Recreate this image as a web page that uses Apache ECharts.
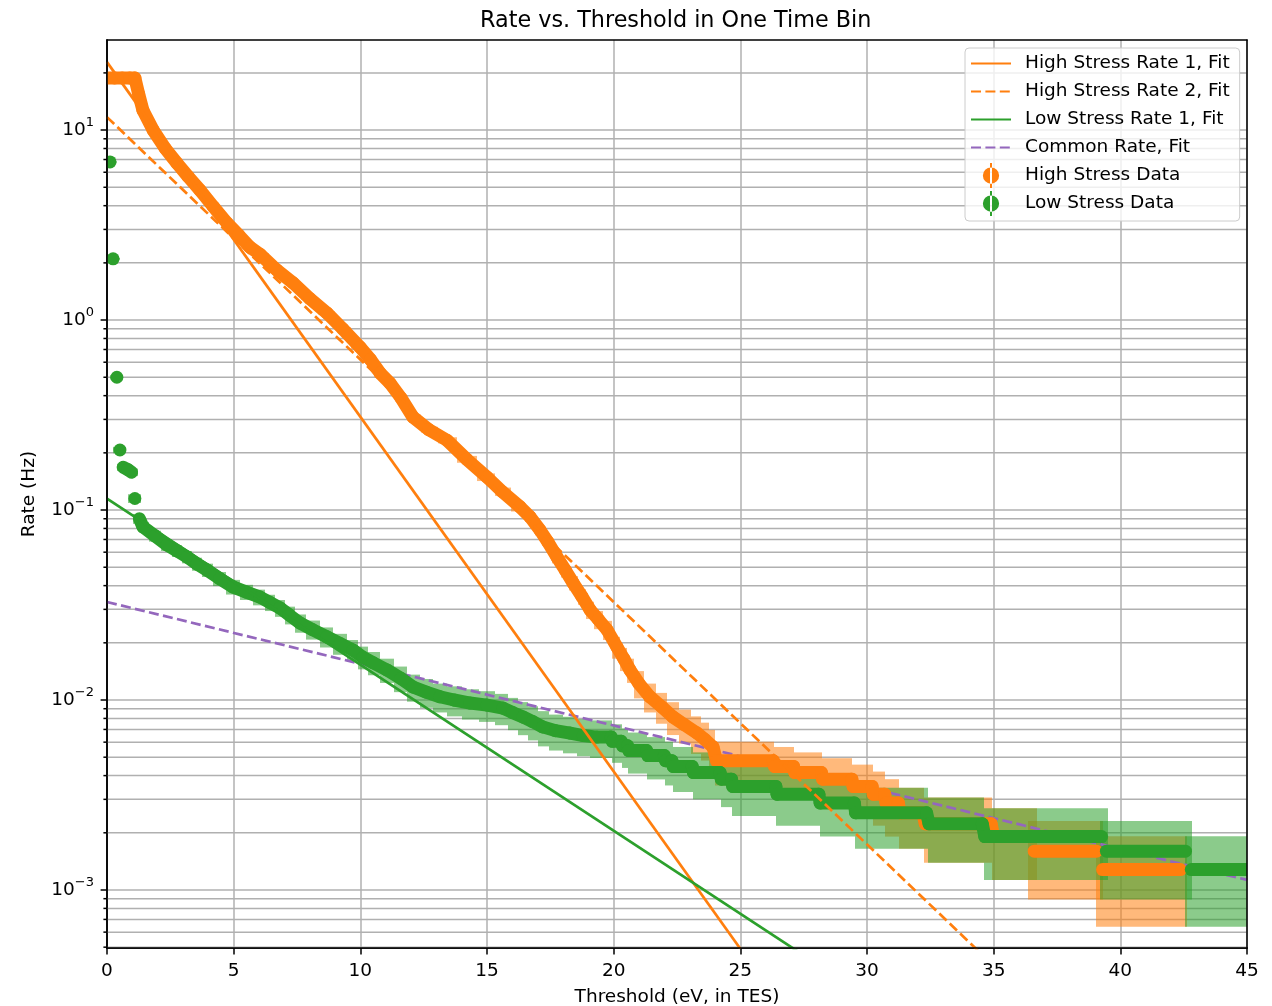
<!DOCTYPE html>
<html>
<head>
<meta charset="utf-8">
<title>Rate vs. Threshold in One Time Bin</title>
<script src="https://cdn.jsdelivr.net/npm/echarts@6/dist/echarts.min.js"></script>
<style>
  html, body { margin: 0; padding: 0; background: #ffffff; }
  #chart { width: 1272px; height: 1006px; }
</style>
</head>
<body>
<div id="chart"></div>
<script>
// Rows: [threshold (eV), rate (Hz), 1-sigma error (Hz)]; a null rate breaks the marker trace.
var highStressData = [
  [0.00, 18.8, 0.078], [0.30, 18.8, 0.078], [0.60, 18.8, 0.078], [0.90, 18.8, 0.078],
  [1.10, 18.8, 0.078], [1.25, 15.5, 0.070], [1.42, 12.7, 0.064], [1.82, 10.0, 0.056],
  [2.30, 8.0, 0.051], [2.76, 6.7, 0.046], [3.20, 5.7, 0.043], [3.67, 4.83, 0.039],
  [4.20, 3.95, 0.035], [4.74, 3.24, 0.032], [5.20, 2.80, 0.030], [5.64, 2.42, 0.028],
  [6.04, 2.22, 0.027], [6.71, 1.83, 0.024], [7.34, 1.57, 0.022], [8.00, 1.30, 0.020],
  [8.68, 1.09, 0.019], [9.30, 0.90, 0.017], [9.99, 0.72, 0.015], [10.40, 0.62, 0.014],
  [10.78, 0.526, 0.013], [11.17, 0.466, 0.012], [11.60, 0.39, 0.011], [12.08, 0.308, 0.0099],
  [12.70, 0.265, 0.0092], [13.42, 0.233, 0.0086], [14.20, 0.185, 0.0077], [15.00, 0.149, 0.0069],
  [15.60, 0.125, 0.0063], [16.30, 0.104, 0.0058], [16.70, 0.092, 0.0054], [17.09, 0.0785, 0.0050],
  [17.40, 0.068, 0.0047], [17.76, 0.0566, 0.0042], [18.10, 0.048, 0.0039], [18.40, 0.0413, 0.0036],
  [18.75, 0.035, 0.0033], [19.07, 0.0298, 0.0031], [19.40, 0.0265, 0.0029], [19.74, 0.0234, 0.0027],
  [20.13, 0.0190, 0.0025], [20.40, 0.0165, 0.0023], [20.64, 0.0144, 0.0021], [21.00, 0.0122, 0.0020],
  [21.43, 0.0104, 0.0018], [21.90, 0.0092, 0.0017], [22.34, 0.00814, 0.0016], [22.80, 0.0074, 0.0015],
  [23.29, 0.0067, 0.0015], [23.60, 0.0062, 0.0014], [23.92, 0.00566, 0.0013],
  [24.06, 0.00479, 0.00124], [26.30, 0.00479, 0.00124],
  [26.35, 0.00447, 0.00119], [27.10, 0.00447, 0.00119],
  [27.15, 0.00415, 0.00115], [28.20, 0.00415, 0.00115],
  [28.25, 0.00383, 0.00111], [29.40, 0.00383, 0.00111],
  [29.45, 0.00351, 0.00106], [30.20, 0.00351, 0.00106],
  [30.25, 0.00319, 0.00101], [30.70, 0.00319, 0.00101],
  [30.75, 0.00287, 0.00096], [31.24, 0.00287, 0.00096],
  [31.30, 0.00255, 0.00090], [32.20, 0.00255, 0.00090],
  [32.30, 0.00223, 0.00084], [34.90, 0.00223, 0.00084],
  [35.00, 0.00191, 0.00078], [36.45, 0.00191, 0.00078],
  [36.55, null, null],
  [36.60, 0.00160, 0.00071], [39.06, 0.00160, 0.00071],
  [39.20, null, null],
  [39.30, 0.00128, 0.00064], [42.37, 0.00128, 0.00064]
];

var lowStressData = [
  [0.12, 6.8, 0.047], [0.18, null, null],
  [0.24, 2.1, 0.026], [0.30, null, null],
  [0.39, 0.50, 0.0126], [0.45, null, null],
  [0.51, 0.207, 0.0081], [0.57, null, null],
  [0.64, 0.168, 0.0073], [0.83, 0.163, 0.0072], [0.97, 0.158, 0.0071], [1.03, null, null],
  [1.10, 0.115, 0.0061], [1.19, null, null],
  [1.28, 0.090, 0.0054], [1.42, 0.0815, 0.0051], [1.90, 0.073, 0.0048], [2.37, 0.0655, 0.0046],
  [2.76, 0.061, 0.0044], [3.16, 0.0566, 0.0042], [3.55, 0.052, 0.0041], [3.95, 0.0483, 0.0039],
  [4.45, 0.0435, 0.0037], [4.97, 0.0394, 0.0035], [5.50, 0.0370, 0.0034], [6.04, 0.0348, 0.0033],
  [6.43, 0.0326, 0.0032], [6.83, 0.0305, 0.0031], [7.20, 0.0280, 0.0030], [7.62, 0.0254, 0.0028],
  [8.10, 0.0235, 0.0027], [8.68, 0.0215, 0.0026], [9.20, 0.0198, 0.0025], [9.71, 0.0183, 0.0024],
  [10.10, 0.0168, 0.0023], [10.50, 0.0157, 0.0022], [11.05, 0.0144, 0.0021], [11.60, 0.0130, 0.0020],
  [12.08, 0.0117, 0.0019], [12.60, 0.0110, 0.0019], [13.14, 0.0104, 0.0018], [13.70, 0.0100, 0.0018],
  [14.33, 0.00964, 0.00175], [15.00, 0.00940, 0.00173], [15.63, 0.00907, 0.00170],
  [16.00, 0.00860, 0.00166], [16.42, 0.00814, 0.00161], [16.80, 0.00770, 0.00157],
  [17.20, 0.00722, 0.00152], [17.70, 0.00690, 0.00148], [18.28, 0.00670, 0.00146],
  [18.80, 0.00650, 0.00144],
  [19.34, 0.00638, 0.00143], [19.90, 0.00638, 0.00143],
  [19.95, 0.00606, 0.00139], [20.30, 0.00606, 0.00139],
  [20.35, 0.00574, 0.00135], [20.55, 0.00574, 0.00135],
  [20.60, 0.00542, 0.00132], [21.30, 0.00542, 0.00132],
  [21.35, 0.00510, 0.00128], [22.00, 0.00510, 0.00128],
  [22.05, 0.00479, 0.00124], [22.30, 0.00479, 0.00124],
  [22.35, 0.00447, 0.00119], [23.10, 0.00447, 0.00119],
  [23.15, 0.00415, 0.00115], [24.20, 0.00415, 0.00115],
  [24.25, 0.00383, 0.00110], [24.65, 0.00383, 0.00110],
  [24.70, 0.00351, 0.00106], [26.40, 0.00351, 0.00106],
  [26.45, 0.00319, 0.00101], [28.10, 0.00319, 0.00101],
  [28.15, 0.00287, 0.00096], [29.50, 0.00287, 0.00096],
  [29.55, 0.00255, 0.00090], [32.35, 0.00255, 0.00090],
  [32.45, 0.00223, 0.00084], [34.55, 0.00223, 0.00084],
  [34.65, 0.00191, 0.00078], [39.26, 0.00191, 0.00078],
  [39.35, null, null],
  [39.45, 0.00160, 0.00071], [42.57, 0.00160, 0.00071],
  [42.68, null, null],
  [42.80, 0.00128, 0.00064], [45.00, 0.00128, 0.00064]
];

// Exponential fits: each is a straight line on the log axis, given by two end points [eV, Hz]
var highStressFit1 = [[0, 22.8], [25, 4.9e-4]];
var highStressFit2 = [[0, 11.7], [35, 4.0e-4]];
var lowStressFit1 = [[0, 0.115], [28, 4.1e-4]];
var commonFit = [[0, 0.0328], [45, 1.13e-3]];

// Axis ranges and tick values
var X_MIN = 0, X_MAX = 45, X_STEP = 5;
var Y_MIN = 4.95e-4, Y_MAX = 29.8;
var yMajorTicks = [1e-3, 1e-2, 1e-1, 1, 10];
var yMinorTicks = [
  5e-4, 6e-4, 7e-4, 8e-4, 9e-4,
  2e-3, 3e-3, 4e-3, 5e-3, 6e-3, 7e-3, 8e-3, 9e-3,
  2e-2, 3e-2, 4e-2, 5e-2, 6e-2, 7e-2, 8e-2, 9e-2,
  0.2, 0.3, 0.4, 0.5, 0.6, 0.7, 0.8, 0.9,
  2, 3, 4, 5, 6, 7, 8, 9,
  20
];

var ORANGE = '#ff7f0e', GREEN = '#2ca02c', PURPLE = '#9467bd';
var FONT = 'DejaVu Sans';
var TEXT = '#000000';
var GRID_GRAY = '#b0b0b0';
var LABEL_SIZE = 18.5;
var MARKER = 13;          // marker diameter, px
var HALF_BAR = 6.5;       // half width of an error bar, px
var FIT_WIDTH = 2.7;
var DASH = [10, 4.4];

// Marker trace pieces: [x, rate, nextX, nextRate, isolated]
// Consecutive points are joined by a round-capped stroke as wide as a marker; lone points become dots.
function tracePieces(rows) {
  var out = [];
  for (var i = 0; i < rows.length; i++) {
    if (rows[i][1] == null) continue;
    var prev = i > 0 ? rows[i - 1] : null;
    var next = i < rows.length - 1 ? rows[i + 1] : null;
    var hasPrev = prev && prev[1] != null;
    var hasNext = next && next[1] != null;
    if (hasNext) out.push([rows[i][0], rows[i][1], next[0], next[1], 0]);
    else if (!hasPrev) out.push([rows[i][0], rows[i][1], rows[i][0], rows[i][1], 1]);
  }
  return out;
}

// One error bar per point, spanning half-way to its neighbours; run ends get a half bar width of padding.
function errorBars(rows) {
  var out = [];
  for (var i = 0; i < rows.length; i++) {
    if (rows[i][1] == null) continue;
    var prev = i > 0 ? rows[i - 1] : null;
    var next = i < rows.length - 1 ? rows[i + 1] : null;
    var startsRun = !prev || prev[1] == null;
    var endsRun = !next || next[1] == null;
    var left = startsRun ? rows[i][0] : (prev[0] + rows[i][0]) / 2;
    var right = endsRun ? rows[i][0] : (rows[i][0] + next[0]) / 2;
    out.push([left, right, rows[i][1] - rows[i][2], rows[i][1] + rows[i][2], startsRun ? 1 : 0, endsRun ? 1 : 0]);
  }
  return out;
}

function traceRenderer(color) {
  return function (params, api) {
    var a = api.coord([api.value(0), api.value(1)]);
    if (api.value(4)) {
      return { type: 'circle', shape: { cx: a[0], cy: a[1], r: MARKER / 2 }, style: { fill: color } };
    }
    var b = api.coord([api.value(2), api.value(3)]);
    return {
      type: 'line',
      shape: { x1: a[0], y1: a[1], x2: b[0], y2: b[1] },
      style: { stroke: color, lineWidth: MARKER, lineCap: 'round', fill: null }
    };
  };
}

function errorBarRenderer(fill) {
  return function (params, api) {
    var tl = api.coord([api.value(0), api.value(3)]);
    var br = api.coord([api.value(1), api.value(2)]);
    var xLo = api.coord([X_MIN, Y_MIN])[0], xHi = api.coord([X_MAX, Y_MIN])[0];
    var left = Math.round(Math.max(xLo, tl[0] - api.value(4) * HALF_BAR));
    var right = Math.round(Math.min(xHi, br[0] + api.value(5) * HALF_BAR));
    if (right <= left) return null;
    return {
      type: 'rect',
      shape: { x: left, y: tl[1], width: right - left, height: br[1] - tl[1] },
      style: { fill: fill }
    };
  };
}

var DATA_ICON = 'path://M9.2,0 L10.8,0 L10.8,20 L9.2,20 Z M3.5,10 A6.5,6.5 0 1 0 16.5,10 A6.5,6.5 0 1 0 3.5,10 Z';

function superscript(n) {
  return String(n).replace('-', '\u2212');
}

var frameLine = { show: true, onZero: false, lineStyle: { color: '#000', width: 1.5 } };
var hiddenSymbol = { opacity: 0 };

var option = {
  animation: false,
  backgroundColor: '#ffffff',
  textStyle: { fontFamily: FONT },
  title: {
    text: 'Rate vs. Threshold in One Time Bin',
    left: 480, top: 10, padding: 0,
    textStyle: { fontFamily: FONT, fontSize: 22.3, fontWeight: 'normal', color: TEXT }
  },
  legend: {
    orient: 'vertical',
    left: 965, top: 48,
    padding: [3, 10, 5, 5],
    itemWidth: 40, itemHeight: 25, itemGap: 3,
    backgroundColor: 'rgba(255,255,255,0.8)',
    borderColor: '#cccccc', borderWidth: 1, borderRadius: 4,
    selectedMode: false,
    textStyle: { fontFamily: FONT, fontSize: LABEL_SIZE, lineHeight: 25, color: TEXT, padding: [0, 0, 0, 9] },
    data: [
      { name: 'High Stress Rate 1, Fit', itemStyle: hiddenSymbol },
      { name: 'High Stress Rate 2, Fit', itemStyle: hiddenSymbol },
      { name: 'Low Stress Rate 1, Fit', itemStyle: hiddenSymbol },
      { name: 'Common Rate, Fit', itemStyle: hiddenSymbol },
      { name: 'High Stress Data', icon: DATA_ICON, itemStyle: { color: ORANGE } },
      { name: 'Low Stress Data', icon: DATA_ICON, itemStyle: { color: GREEN } }
    ]
  },
  grid: { left: 107, right: 25, top: 40, bottom: 58, containLabel: false, outerBoundsMode: 'none' },
  xAxis: [
    {
      type: 'value', min: X_MIN, max: X_MAX, interval: X_STEP, position: 'bottom',
      axisLine: frameLine,
      axisTick: { show: true, length: 6.4, lineStyle: { color: '#000', width: 1.5 } },
      axisLabel: { margin: 14, fontFamily: FONT, fontSize: LABEL_SIZE, color: TEXT },
      splitLine: { show: true, lineStyle: { color: GRID_GRAY, width: 1.5 } },
      name: 'Threshold (eV, in TES)', nameLocation: 'middle', nameGap: 40,
      nameTextStyle: { fontFamily: FONT, fontSize: LABEL_SIZE, color: TEXT }
    },
    { type: 'value', min: 0, max: 1, position: 'top', z: 10, axisLine: frameLine,
      axisTick: { show: false }, axisLabel: { show: false }, splitLine: { show: false } },
    { type: 'value', min: 0, max: 1, position: 'bottom', z: 10, axisLine: frameLine,
      axisTick: { show: false }, axisLabel: { show: false }, splitLine: { show: false } }
  ],
  yAxis: [
    {
      type: 'log', logBase: 10, min: Y_MIN, max: Y_MAX, position: 'left',
      axisLine: frameLine,
      axisTick: { show: true, length: 6.4, lineStyle: { color: '#000', width: 1.5 }, customValues: yMajorTicks },
      axisLabel: {
        margin: 13, customValues: yMajorTicks,
        formatter: function (v) {
          var lg = Math.log10(v), e = Math.round(lg);
          if (Math.abs(lg - e) > 1e-6) return '';
          return '{b|10}{s|' + superscript(e) + '}';
        },
        rich: {
          b: { fontFamily: FONT, fontSize: LABEL_SIZE, color: TEXT },
          s: { fontFamily: FONT, fontSize: 13, color: TEXT, padding: [0, 0, 14, 0] }
        }
      },
      splitLine: { show: true, lineStyle: { color: GRID_GRAY, width: 1.5 } },
      minorTick: { show: false }, minorSplitLine: { show: false },
      name: 'Rate (Hz)', nameLocation: 'middle', nameGap: 68,
      nameTextStyle: { fontFamily: FONT, fontSize: LABEL_SIZE, color: TEXT }
    },
    { type: 'value', min: 0, max: 1, position: 'right', z: 10, axisLine: frameLine,
      axisTick: { show: false }, axisLabel: { show: false }, splitLine: { show: false } },
    { type: 'value', min: 0, max: 1, position: 'left', z: 10, axisLine: frameLine,
      axisTick: { show: false }, axisLabel: { show: false }, splitLine: { show: false } }
  ],
  series: [
    {
      // minor decade lines and their short ticks on the left spine
      name: 'minor grid', type: 'custom', z: 1, silent: true, clip: false,
      data: yMinorTicks.map(function (v) { return [X_MIN, v]; }),
      encode: { x: 0, y: 1 },
      renderItem: function (params, api) {
        var l = api.coord([X_MIN, api.value(1)]);
        var r = api.coord([X_MAX, api.value(1)]);
        return {
          type: 'group',
          children: [
            { type: 'line', shape: { x1: l[0], y1: l[1], x2: r[0], y2: r[1] },
              style: { stroke: GRID_GRAY, lineWidth: 1.5 } },
            { type: 'line', shape: { x1: l[0] - 3.6, y1: l[1], x2: l[0], y2: l[1] },
              style: { stroke: '#000', lineWidth: 1.5 } }
          ]
        };
      }
    },
    {
      name: 'High Stress Errors', type: 'custom', z: 2, silent: true, clip: true,
      data: errorBars(highStressData),
      encode: { x: [0, 1], y: [2, 3] },
      renderItem: errorBarRenderer('rgba(255,127,14,0.55)')
    },
    {
      name: 'Low Stress Errors', type: 'custom', z: 2, silent: true, clip: true,
      data: errorBars(lowStressData),
      encode: { x: [0, 1], y: [2, 3] },
      renderItem: errorBarRenderer('rgba(44,160,44,0.55)')
    },
    {
      name: 'Common Rate, Fit', type: 'line', z: 3, silent: true,
      data: commonFit, symbol: 'none', clip: true,
      itemStyle: { color: PURPLE },
      lineStyle: { color: PURPLE, width: FIT_WIDTH, type: DASH }
    },
    {
      name: 'High Stress Data', type: 'custom', z: 4, silent: true, clip: true,
      data: tracePieces(highStressData),
      encode: { x: [0, 2], y: [1, 3] },
      itemStyle: { color: ORANGE },
      renderItem: traceRenderer(ORANGE)
    },
    {
      name: 'Low Stress Data', type: 'custom', z: 4, silent: true, clip: true,
      data: tracePieces(lowStressData),
      encode: { x: [0, 2], y: [1, 3] },
      itemStyle: { color: GREEN },
      renderItem: traceRenderer(GREEN)
    },
    {
      name: 'High Stress Rate 1, Fit', type: 'line', z: 5, silent: true,
      data: highStressFit1, symbol: 'none', clip: true,
      itemStyle: { color: ORANGE },
      lineStyle: { color: ORANGE, width: FIT_WIDTH }
    },
    {
      name: 'High Stress Rate 2, Fit', type: 'line', z: 5, silent: true,
      data: highStressFit2, symbol: 'none', clip: true,
      itemStyle: { color: ORANGE },
      lineStyle: { color: ORANGE, width: FIT_WIDTH, type: DASH }
    },
    {
      name: 'Low Stress Rate 1, Fit', type: 'line', z: 5, silent: true,
      data: lowStressFit1, symbol: 'none', clip: true,
      itemStyle: { color: GREEN },
      lineStyle: { color: GREEN, width: FIT_WIDTH }
    }
  ]
};

var chart = echarts.init(document.getElementById('chart'), null, { renderer: 'canvas' });
chart.setOption(option);
</script>
</body>
</html>
